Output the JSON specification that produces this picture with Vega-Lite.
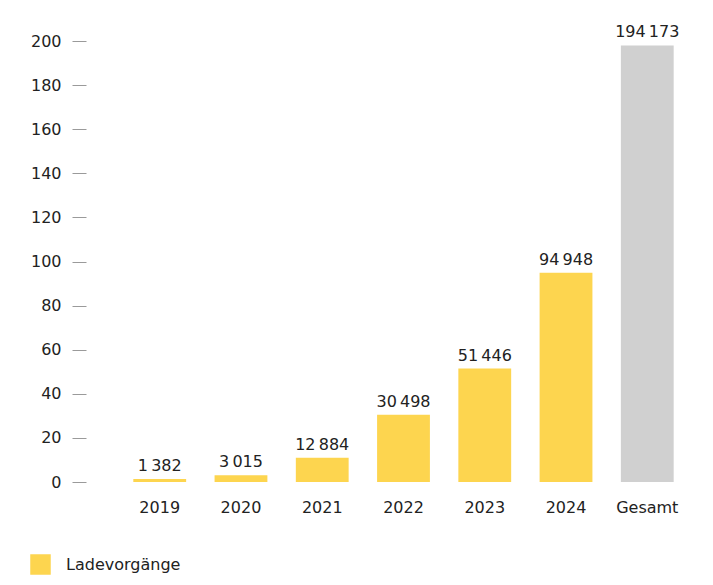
{
  "$schema": "https://vega.github.io/schema/vega-lite/v6.json",
  "width": 607,
  "height": 441,
  "autosize": "none",
  "padding": {"left": 100, "top": 41, "right": 6, "bottom": 103},
  "background": "white",
  "config": {
    "view": {"stroke": null},
    "font": "DejaVu Sans",
    "axis": {"labelFont": "DejaVu Sans", "labelColor": "#222222", "labelFontSize": 16, "grid": false, "domain": false}
  },
  "data": {
    "values": [
      {"jahr": "2019", "wert": 1.382, "label": "1\u2009382", "serie": "Ladevorgänge"},
      {"jahr": "2020", "wert": 3.015, "label": "3\u2009015", "serie": "Ladevorgänge"},
      {"jahr": "2021", "wert": 11.0, "label": "12\u2009884", "serie": "Ladevorgänge"},
      {"jahr": "2022", "wert": 30.498, "label": "30\u2009498", "serie": "Ladevorgänge"},
      {"jahr": "2023", "wert": 51.446, "label": "51\u2009446", "serie": "Ladevorgänge"},
      {"jahr": "2024", "wert": 94.948, "label": "94\u2009948", "serie": "Ladevorgänge"},
      {"jahr": "Gesamt", "wert": 198.0, "label": "194\u2009173", "serie": "Gesamt"}
    ]
  },
  "encoding": {
    "x": {
      "field": "jahr", "type": "nominal", "sort": null,
      "scale": {"paddingInner": 0.35, "paddingOuter": 0.41},
      "axis": {"title": null, "labelAngle": 0, "ticks": false, "labelPadding": 17}
    },
    "y": {
      "field": "wert", "type": "quantitative",
      "scale": {"domain": [0, 200], "nice": false},
      "axis": {"title": null, "values": [0,20,40,60,80,100,120,140,160,180,200], "offset": 14, "tickSize": 14, "tickColor": "#9a9a9a", "tickWidth": 1, "labelPadding": 11}
    }
  },
  "layer": [
    {
      "mark": {"type": "bar"},
      "encoding": {
        "color": {
          "field": "serie", "type": "nominal",
          "scale": {"domain": ["Ladevorgänge", "Gesamt"], "range": ["#FDD54F", "#D0D0D0"]},
          "legend": {
            "title": null, "values": ["Ladevorgänge"], "orient": "none", "legendX": -70, "legendY": 513,
            "symbolType": "square", "symbolSize": 420, "symbolStrokeWidth": 0, "labelFontSize": 16, "labelFont": "DejaVu Sans", "labelColor": "#222222", "labelOffset": 15
          }
        }
      }
    },
    {
      "mark": {"type": "text", "baseline": "bottom", "dy": -5, "fontSize": 16, "font": "DejaVu Sans", "color": "#222222"},
      "encoding": {"text": {"field": "label"}}
    }
  ]
}
